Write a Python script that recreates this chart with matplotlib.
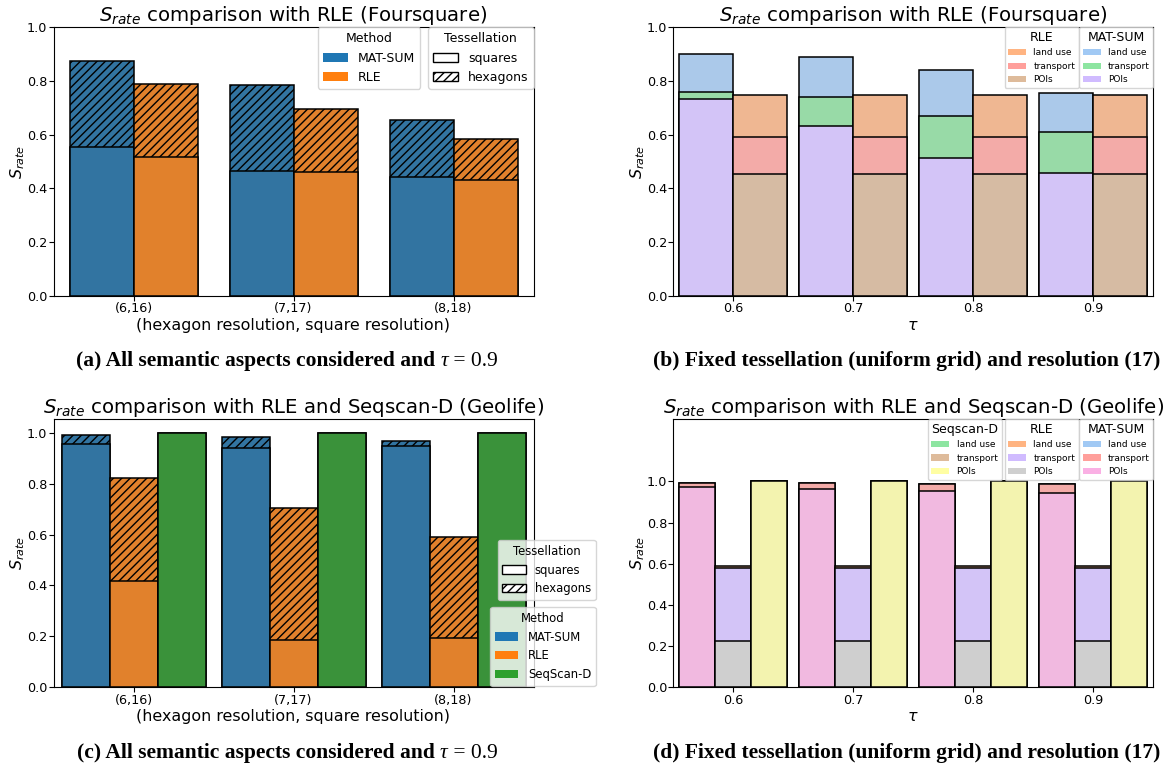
import colorsys
import matplotlib
matplotlib.use('Agg')
import matplotlib.pyplot as plt
import matplotlib.colors as mcolors
from matplotlib.patches import Patch
from matplotlib.offsetbox import TextArea, HPacker, AnnotationBbox

# ---------------- data ----------------
res_labels = ['(6,16)', '(7,17)', '(8,18)']
tau_labels = ['0.6', '0.7', '0.8', '0.9']

# (a) Foursquare, all aspects, tau = 0.9
fs_matsum_squares = [0.553, 0.466, 0.441]
fs_matsum_hexagons = [0.873, 0.784, 0.653]
fs_rle_squares = [0.518, 0.460, 0.430]
fs_rle_hexagons = [0.789, 0.694, 0.583]

# (b) Foursquare, cumulative S_rate by semantic aspect (POIs, +transport, +land use)
fs_matsum_pois = [0.732, 0.631, 0.514, 0.458]
fs_matsum_transport = [0.759, 0.742, 0.670, 0.611]
fs_matsum_landuse = [0.902, 0.889, 0.840, 0.757]
fs_rle_pois = [0.455, 0.455, 0.455, 0.455]
fs_rle_transport = [0.593, 0.593, 0.593, 0.593]
fs_rle_landuse = [0.749, 0.749, 0.749, 0.749]

# (c) Geolife, all aspects, tau = 0.9
gl_matsum_squares = [0.955, 0.942, 0.946]
gl_matsum_hexagons = [0.993, 0.982, 0.967]
gl_rle_squares = [0.418, 0.185, 0.192]
gl_rle_hexagons = [0.821, 0.703, 0.589]
gl_seq_squares = [0.998, 1.0, 1.0]
gl_seq_hexagons = [0.998, 1.0, 1.0]

# (d) Geolife, cumulative by semantic aspect
gl_matsum_pois = [0.972, 0.964, 0.955, 0.946]
gl_matsum_transport = [0.991, 0.991, 0.987, 0.985]
gl_matsum_landuse = [0.991, 0.991, 0.987, 0.985]
gl_rle_pois = [0.226, 0.226, 0.226, 0.226]
gl_rle_transport = [0.578, 0.578, 0.578, 0.578]
gl_rle_landuse = [0.587, 0.587, 0.587, 0.587]
gl_seq_pois = [1.0, 1.0, 1.0, 1.0]
gl_seq_transport = [1.0, 1.0, 1.0, 1.0]
gl_seq_landuse = [1.0, 1.0, 1.0, 1.0]

# ---------------- style ----------------
def desat(c, prop=0.75):
    r, g, b = mcolors.to_rgb(c)
    h, l, s = colorsys.rgb_to_hls(r, g, b)
    return colorsys.hls_to_rgb(h, l, s * prop)

C_BLUE, C_ORANGE, C_GREEN = '#1f77b4', '#ff7f0e', '#2ca02c'
P = dict(blue='#a1c9f4', orange='#ffb482', green='#8de5a1', red='#ff9f9b',
         purple='#d0bbff', brown='#debb9b', pink='#fab0e4', gray='#cfcfcf',
         olive='#fffea3')

HATCH = '////'
EDGE = dict(edgecolor='black', linewidth=1.1)
TICK_FS = 9.2
LABEL_FS = 11.4
TITLE_FS = 14.2

W, H = 1170, 768
fig = plt.figure(figsize=(W / 100, H / 100), dpi=100)


def add_ax(left_px, top_px, bottom_px, width_px=480):
    return fig.add_axes([left_px / W, (H - bottom_px) / H, width_px / W,
                         (bottom_px - top_px) / H])


def style_ax(ax, xlabel, title):
    ax.tick_params(labelsize=TICK_FS, length=3.3, pad=1.2)
    ax.set_ylabel(r'$S_{rate}$', fontsize=LABEL_FS, labelpad=0)
    ax.set_xlabel(xlabel, fontsize=LABEL_FS, labelpad=2)
    ax.set_title(title, fontsize=TITLE_FS, pad=4)


def tess_legend(ax, fs, anchor, loc='upper right'):
    h = [Patch(facecolor='white', edgecolor='black', label='squares'),
         Patch(facecolor='white', edgecolor='black', hatch=HATCH, label='hexagons')]
    return ax.legend(handles=h, title='Tessellation', fontsize=fs, title_fontsize=fs,
                     loc=loc, bbox_to_anchor=anchor, borderaxespad=0)


def method_legend(ax, names, colors, fs, anchor, loc='upper right'):
    h = [Patch(facecolor=c, label=n) for n, c in zip(names, colors)]
    return ax.legend(handles=h, title='Method', fontsize=fs, title_fontsize=fs,
                     loc=loc, bbox_to_anchor=anchor, borderaxespad=0)


def aspect_legend(ax, title, colors, anchor):
    h = [Patch(facecolor=c, label=n) for n, c in zip(['land use', 'transport', 'POIs'], colors)]
    return ax.legend(handles=h, title=title, fontsize=6.5, title_fontsize=9,
                     loc='upper right', bbox_to_anchor=anchor, borderaxespad=0)


RES_XLABEL = '(hexagon resolution, square resolution)'
TITLE_FS_SQ = r'$S_{rate}$ comparison with RLE (Foursquare)'
TITLE_GL = r'$S_{rate}$ comparison with RLE and Seqscan-D (Geolife)'

# ---------------- (a) ----------------
ax = add_ax(53.5, 27.3, 295.7)
xa = list(range(len(res_labels)))
for off, hexv, sqv, col in [(-0.2, fs_matsum_hexagons, fs_matsum_squares, C_BLUE),
                            (0.2, fs_rle_hexagons, fs_rle_squares, C_ORANGE)]:
    ax.bar([x + off for x in xa], hexv, width=0.4, color=desat(col), hatch=HATCH, **EDGE)
    ax.bar([x + off for x in xa], sqv, width=0.4, color=desat(col), **EDGE)
ax.set_xticks(xa)
ax.set_xticklabels(res_labels)
ax.set_xlim(-0.5, 2.5)
ax.set_ylim(0, 1.0)
style_ax(ax, RES_XLABEL, TITLE_FS_SQ)
l1 = method_legend(ax, ['MAT-SUM', 'RLE'], [C_BLUE, C_ORANGE], 9, (0.764, 1.0))
ax.add_artist(l1)
tess_legend(ax, 9, (1.0, 1.0))

# ---------------- (b) ----------------
ax = add_ax(673.3, 27.3, 295.7)
xb = list(range(len(tau_labels)))
for off, vals, cols in [
        (-0.225, [fs_matsum_landuse, fs_matsum_transport, fs_matsum_pois],
         [P['blue'], P['green'], P['purple']]),
        (0.225, [fs_rle_landuse, fs_rle_transport, fs_rle_pois],
         [P['orange'], P['red'], P['brown']])]:
    for v, c in zip(vals, cols):
        ax.bar([x + off for x in xb], v, width=0.45, color=desat(c), **EDGE)
ax.set_xticks(xb)
ax.set_xticklabels(tau_labels)
ax.set_xlim(-0.5, 3.5)
ax.set_ylim(0, 1.0)
style_ax(ax, r'$\tau$', TITLE_FS_SQ)
l1 = aspect_legend(ax, 'RLE', [P['orange'], P['red'], P['brown']], (0.845, 1.0))
ax.add_artist(l1)
aspect_legend(ax, 'MAT-SUM', [P['blue'], P['green'], P['purple']], (1.0, 1.0))

# ---------------- (c) ----------------
ax = add_ax(53.5, 419, 687.3)
for off, hexv, sqv, col in [(-0.3, gl_matsum_hexagons, gl_matsum_squares, C_BLUE),
                            (0.0, gl_rle_hexagons, gl_rle_squares, C_ORANGE),
                            (0.3, gl_seq_hexagons, gl_seq_squares, C_GREEN)]:
    ax.bar([x + off for x in xa], hexv, width=0.3, color=desat(col), hatch=HATCH, **EDGE)
    ax.bar([x + off for x in xa], sqv, width=0.3, color=desat(col), **EDGE)
ax.set_xticks(xa)
ax.set_xticklabels(res_labels)
ax.set_xlim(-0.5, 2.5)
ax.set_ylim(0, 1.054)
ax.set_yticks([0, 0.2, 0.4, 0.6, 0.8, 1.0])
style_ax(ax, RES_XLABEL, TITLE_GL)
l1 = tess_legend(ax, 8.4, (1.1296, 0.549))
ax.add_artist(l1)
method_legend(ax, ['MAT-SUM', 'RLE', 'SeqScan-D'], [C_BLUE, C_ORANGE, C_GREEN], 8.4,
              (1.1296, 0.299))

# ---------------- (d) ----------------
ax = add_ax(673.3, 419, 687.3)
for off, vals, cols in [
        (-0.3, [gl_matsum_landuse, gl_matsum_transport, gl_matsum_pois],
         [P['blue'], P['red'], P['pink']]),
        (0.0, [gl_rle_landuse, gl_rle_transport, gl_rle_pois],
         [P['orange'], P['purple'], P['gray']]),
        (0.3, [gl_seq_landuse, gl_seq_transport, gl_seq_pois],
         [P['green'], P['brown'], P['olive']])]:
    for v, c in zip(vals, cols):
        ax.bar([x + off for x in xb], v, width=0.3, color=desat(c), **EDGE)
ax.set_xticks(xb)
ax.set_xticklabels(tau_labels)
ax.set_xlim(-0.5, 3.5)
ax.set_ylim(0, 1.303)
ax.set_yticks([0, 0.2, 0.4, 0.6, 0.8, 1.0])
style_ax(ax, r'$\tau$', TITLE_GL)
l1 = aspect_legend(ax, 'Seqscan-D', [P['green'], P['brown'], P['olive']], (0.685, 1.0))
ax.add_artist(l1)
l2 = aspect_legend(ax, 'RLE', [P['orange'], P['purple'], P['gray']], (0.845, 1.0))
ax.add_artist(l2)
aspect_legend(ax, 'MAT-SUM', [P['blue'], P['red'], P['pink']], (1.0, 1.0))

# ---------------- captions ----------------
CAP_FS = 15.5
SERIF = ['Liberation Serif', 'DejaVu Serif']


def caption(parts, cx, cy):
    children = [TextArea(t, textprops=dict(family=SERIF, fontsize=CAP_FS, **kw))
                for t, kw in parts]
    box = HPacker(children=children, pad=0, sep=0, align='baseline')
    ab = AnnotationBbox(box, (cx, H - cy), xycoords='figure pixels', frameon=False,
                        box_alignment=(0.5, 0.5), pad=0)
    fig.add_artist(ab)


caption([('(a) All semantic aspects considered and ', dict(fontweight='bold')),
         ('τ', dict(style='italic')), (' = 0.9', dict())], 287, 361)
caption([('(b) Fixed tessellation (uniform grid) and resolution (17)', dict(fontweight='bold'))],
        907, 361)
caption([('(c) All semantic aspects considered and ', dict(fontweight='bold')),
         ('τ', dict(style='italic')), (' = 0.9', dict())], 287, 753)
caption([('(d) Fixed tessellation (uniform grid) and resolution (17)', dict(fontweight='bold'))],
        907, 753)

fig.savefig('out.png', dpi=100)
